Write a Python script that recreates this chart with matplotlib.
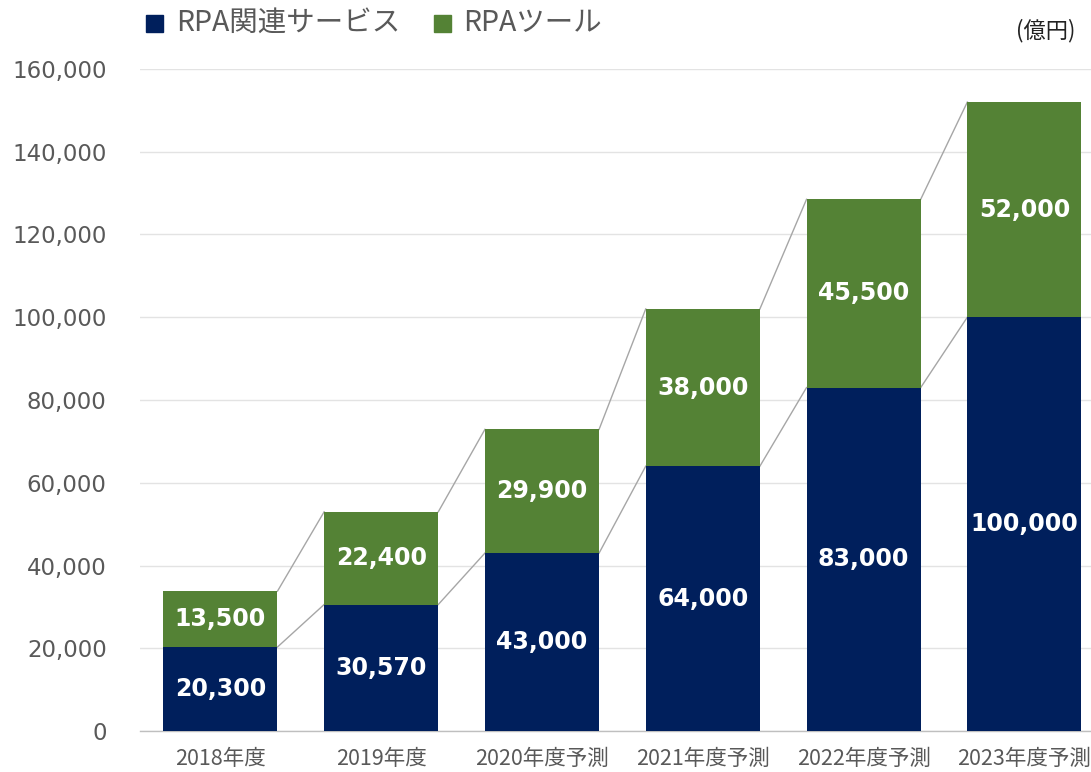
import matplotlib
matplotlib.use("Agg")
import matplotlib.pyplot as plt
from matplotlib.patches import Rectangle

plt.rcParams['font.family'] = ['Noto Sans CJK JP', 'DejaVu Sans']

categories = ["2018年度", "2019年度", "2020年度予測", "2021年度予測", "2022年度予測", "2023年度予測"]
services = [20300, 30570, 43000, 64000, 83000, 100000]
tools = [13500, 22400, 29900, 38000, 45500, 52000]
series_names = ["RPA関連サービス", "RPAツール"]
unit_label = "(億円)"
y_ticks = [0, 20000, 40000, 60000, 80000, 100000, 120000, 140000, 160000]

navy = "#001F5C"
green = "#548235"
gray_text = "#595959"

W, H = 1091, 772
fig = plt.figure(figsize=(W / 100, H / 100), dpi=100)
left_px, right_px, bottom_px, top_px = 140, 1091, 731, 69
ax = fig.add_axes([left_px / W, (H - bottom_px) / H, (right_px - left_px) / W, (bottom_px - top_px) / H])

x = list(range(len(categories)))
bw = 0.71
ax.bar(x, services, width=bw, color=navy, zorder=3)
totals = [s + t for s, t in zip(services, tools)]
ax.bar(x, tools, bottom=services, width=bw, color=green, zorder=3)

# connector lines
for i in range(len(x) - 1):
    for vals in (services, totals):
        ax.plot([x[i] + bw / 2, x[i + 1] - bw / 2], [vals[i], vals[i + 1]],
                color="#A6A6A6", lw=1.0, zorder=2)

for i in x:
    ax.text(i, services[i] / 2, f"{services[i]:,}", ha="center", va="center",
            color="white", fontsize=17, fontweight="bold", family="DejaVu Sans", zorder=4)
    ax.text(i, services[i] + tools[i] / 2, f"{tools[i]:,}", ha="center", va="center",
            color="white", fontsize=17, fontweight="bold", family="DejaVu Sans", zorder=4)

ax.set_ylim(0, 160000)
ax.set_xlim(-0.5, (right_px - left_px) / ((1024 - 220) / 5) - 0.5)
ax.set_yticks(y_ticks, [f"{v:,}" for v in y_ticks], family="DejaVu Sans",
              fontsize=16.5, color=gray_text)
ax.grid(axis="y", color="#E3E3E3", lw=1.0, zorder=0)
ax.set_axisbelow(True)
for s in ("top", "right", "left"):
    ax.spines[s].set_visible(False)
ax.spines["bottom"].set_color("#BFBFBF")
ax.spines["bottom"].set_linewidth(1.0)
ax.tick_params(axis="y", length=0, pad=24)
ax.set_xticks(x, categories, fontsize=15.5, color=gray_text)
ax.tick_params(axis="x", length=0, pad=12)

# legend
sq = 17
for (sx, tx, name, col) in [(146, 176, series_names[0], navy), (434, 463, series_names[1], green)]:
    fig.patches.append(Rectangle((sx / W, (H - 32) / H), sq / W, sq / H,
                                 transform=fig.transFigure, color=col, figure=fig))
    fig.text(tx / W, (H - 23) / H, name, fontsize=20.5, color=gray_text, va="center", ha="left")

fig.text(1075 / W, (H - 31) / H, unit_label, fontsize=16, color="#222222", va="center", ha="right")

fig.savefig("out.png", dpi=100)
